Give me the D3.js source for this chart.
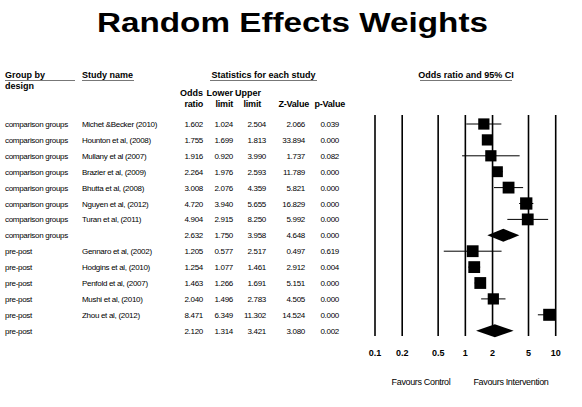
<!DOCTYPE html>
<html>
<head>
<meta charset="utf-8">
<script src="https://cdn.jsdelivr.net/npm/d3@7"></script>
<style>
  body { margin: 0; background: #fff; }
  svg text { font-family: "Liberation Sans", Arial, sans-serif; fill: #000; }
</style>
</head>
<body>
<script>
// rows of the forest plot, top to bottom
var groups = ["comparison groups", "comparison groups", "comparison groups", "comparison groups",
  "comparison groups", "comparison groups", "comparison groups", "comparison groups",
  "pre-post", "pre-post", "pre-post", "pre-post", "pre-post", "pre-post"];
var studies = ["Michet &Becker (2010)", "Hounton et al, (2008)", "Mullany et al (2007)", "Brazier et al, (2009)",
  "Bhutta et al, (2008)", "Nguyen et al, (2012)", "Turan et al, (2011)", "",
  "Gennaro et al, (2002)", "Hodgins et al, (2010)", "Penfold et al, (2007)", "Mushi et al, (2010)",
  "Zhou et al, (2012)", ""];
var oddsRatio = [1.602, 1.755, 1.916, 2.264, 3.008, 4.720, 4.904, 2.632, 1.205, 1.254, 1.463, 2.040, 8.471, 2.120];
var lowerLimit = [1.024, 1.699, 0.920, 1.976, 2.076, 3.940, 2.915, 1.750, 0.577, 1.077, 1.266, 1.496, 6.349, 1.314];
var upperLimit = [2.504, 1.813, 3.990, 2.593, 4.359, 5.655, 8.250, 3.958, 2.517, 1.461, 1.691, 2.783, 11.302, 3.421];
var zValue = [2.066, 33.894, 1.737, 11.789, 5.821, 16.829, 5.992, 4.648, 0.497, 2.912, 5.151, 4.505, 14.524, 3.080];
var pValue = [0.039, 0.000, 0.082, 0.000, 0.000, 0.000, 0.000, 0.000, 0.619, 0.004, 0.000, 0.000, 0.000, 0.002];
// relative weight (box area)
var relWeight = [14.0, 14.0, 14.0, 13.2, 15.5, 16.8, 15.5, 0, 15.5, 15.5, 15.5, 14.0, 16.0, 0];
var isSummary = [false, false, false, false, false, false, false, true, false, false, false, false, false, true];
var ticks = [0.1, 0.2, 0.5, 1, 2, 5, 10];

var W = 582, H = 407;
var svg = d3.select("body").append("svg").attr("width", W).attr("height", H);

var fmt = d3.format(".3f");
var y = d3.scalePoint().domain(d3.range(oddsRatio.length)).range([124, 330.7]);
var x = d3.scaleLog().domain([0.1, 10]).range([375, 555.7]).clamp(true);
var box = d3.scaleSqrt().domain([0, 16.8]).range([0, 12.3]);

// title
svg.append("text")
  .attr("x", 97).attr("y", 32)
  .attr("textLength", 391).attr("lengthAdjust", "spacingAndGlyphs")
  .style("font-weight", "bold").style("font-size", "27px")
  .text("Random Effects Weights");

// column group headers with underlines
function header(txt, x0, x1, anchor, tx) {
  svg.append("text").attr("x", tx).attr("y", 78).attr("text-anchor", anchor)
    .style("font-weight", "bold").style("font-size", "9px").text(txt);
  svg.append("line").attr("x1", x0).attr("x2", x1).attr("y1", 80.5).attr("y2", 80.5)
    .attr("stroke", "#777").attr("stroke-width", 1);
}
header("Group by", 5, 75, "start", 5);
header("Study name", 82, 134, "start", 82);
header("Statistics for each study", 210, 317, "middle", 263.5);
header("Odds ratio and 95% CI", 420, 512, "middle", 466);
svg.append("text").attr("x", 5).attr("y", 89)
  .style("font-weight", "bold").style("font-size", "9px").text("design");

// statistic column headers
var cols = [
  {top: "Odds", bot: "ratio", hx: 203, vx: 203, vals: oddsRatio},
  {top: "Lower", bot: "limit", hx: 233, vx: 233, vals: lowerLimit},
  {top: "Upper", bot: "limit", hx: 261, vx: 266, vals: upperLimit},
  {top: "", bot: "Z-Value", hx: 309, vx: 305, vals: zValue},
  {top: "", bot: "p-Value", hx: 345, vx: 339, vals: pValue}
];
cols.forEach(function(c) {
  svg.append("text").attr("x", c.hx).attr("y", 96).attr("text-anchor", "end")
    .style("font-weight", "bold").style("font-size", "9px").text(c.top);
  svg.append("text").attr("x", c.hx).attr("y", 107).attr("text-anchor", "end")
    .style("font-weight", "bold").style("font-size", "9px").style("letter-spacing", "-0.2px").text(c.bot);
  svg.selectAll(null).data(c.vals).enter().append("text")
    .attr("x", c.vx).attr("y", function(d, i) { return y(i) + 3; })
    .attr("text-anchor", "end").style("font-size", "8px").style("letter-spacing", "-0.3px")
    .text(function(d) { return fmt(d); });
});

// group and study names
svg.selectAll(null).data(groups).enter().append("text")
  .attr("x", 5).attr("y", function(d, i) { return y(i) + 3; })
  .style("font-size", "8px").style("letter-spacing", "-0.3px").text(function(d) { return d; });
svg.selectAll(null).data(studies).enter().append("text")
  .attr("x", 82).attr("y", function(d, i) { return y(i) + 3; })
  .style("font-size", "8px").style("letter-spacing", "-0.3px").text(function(d) { return d; });

// vertical reference lines at each tick
svg.selectAll(null).data(ticks).enter().append("line")
  .attr("x1", function(d) { return x(d); }).attr("x2", function(d) { return x(d); })
  .attr("y1", 115).attr("y2", 336)
  .attr("stroke", "#000").attr("stroke-width", 1.6);

// tick labels
svg.selectAll(null).data(ticks).enter().append("text")
  .attr("x", function(d) { return x(d); }).attr("y", 355.5)
  .attr("text-anchor", "middle").style("font-weight", "bold").style("font-size", "9px")
  .text(function(d) { return d; });

svg.append("text").attr("x", 421).attr("y", 384.5).attr("text-anchor", "middle")
  .style("font-size", "9px").style("letter-spacing", "-0.35px").text("Favours Control");
svg.append("text").attr("x", 511).attr("y", 384.5).attr("text-anchor", "middle")
  .style("font-size", "9px").style("letter-spacing", "-0.35px").text("Favours Intervention");

// confidence interval whiskers
var idx = d3.range(oddsRatio.length).filter(function(i) { return !isSummary[i]; });
svg.selectAll(null).data(idx).enter().append("line")
  .attr("x1", function(i) { return x(lowerLimit[i]); })
  .attr("x2", function(i) { return x(upperLimit[i]); })
  .attr("y1", function(i) { return y(i); }).attr("y2", function(i) { return y(i); })
  .attr("stroke", "#000").attr("stroke-width", 1);

// weight boxes
svg.selectAll(null).data(idx).enter().append("rect")
  .attr("x", function(i) { return Math.min(x(oddsRatio[i]) - box(relWeight[i]) / 2, x(10) - box(relWeight[i])); })
  .attr("y", function(i) { return y(i) - box(relWeight[i]) / 2; })
  .attr("width", function(i) { return box(relWeight[i]); })
  .attr("height", function(i) { return box(relWeight[i]); })
  .attr("fill", "#000");

// summary diamonds
var sIdx = d3.range(oddsRatio.length).filter(function(i) { return isSummary[i]; });
svg.selectAll(null).data(sIdx).enter().append("path")
  .attr("d", function(i) {
    var cy = y(i), h = 6.5;
    return "M" + x(lowerLimit[i]) + "," + cy + "L" + x(oddsRatio[i]) + "," + (cy - h) +
      "L" + x(upperLimit[i]) + "," + cy + "L" + x(oddsRatio[i]) + "," + (cy + h) + "Z";
  })
  .attr("fill", "#000");
</script>
</body>
</html>
